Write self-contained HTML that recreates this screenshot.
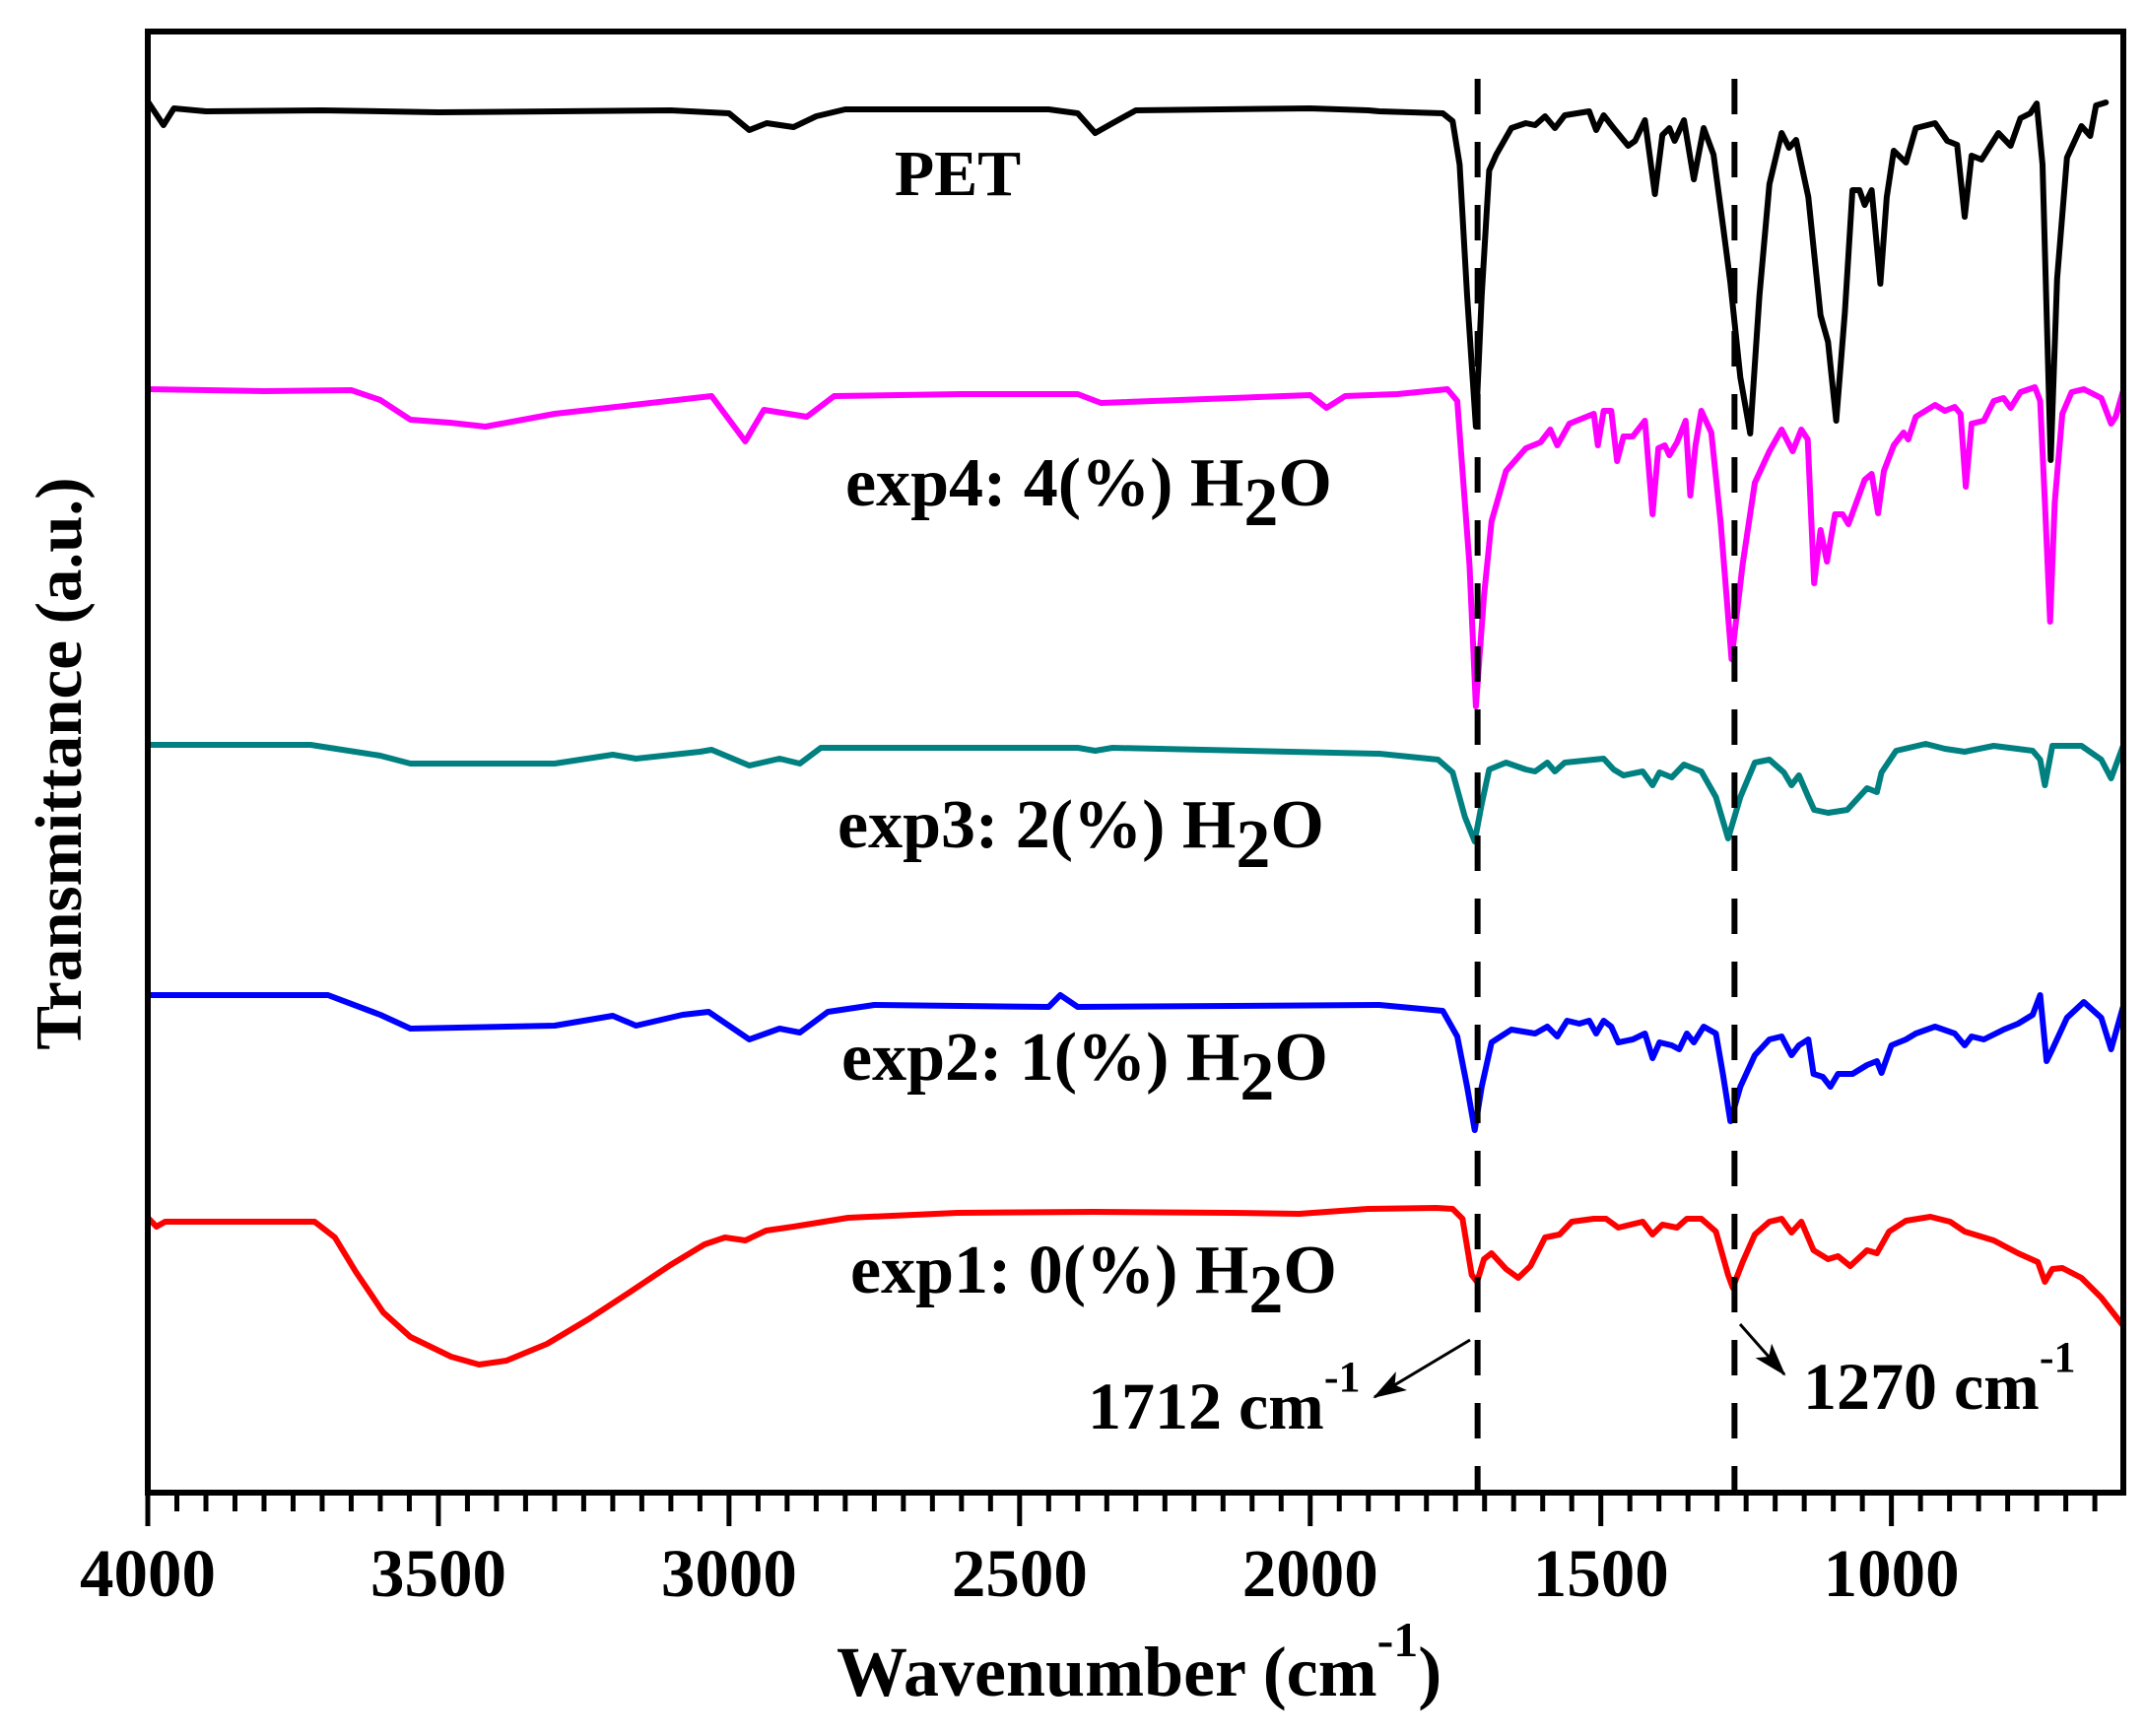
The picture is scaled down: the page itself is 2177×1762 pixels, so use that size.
<!DOCTYPE html>
<html><head><meta charset="utf-8"><style>
html,body{margin:0;padding:0;background:#fff;}
svg{display:block;}
text{font-family:"Liberation Serif",serif;font-weight:bold;fill:#000;}
</style></head><body>
<svg id="chart" width="2177" height="1762" viewBox="0 0 2177 1762" xmlns="http://www.w3.org/2000/svg">
<defs><clipPath id="plotclip"><rect x="150" y="32" width="2005" height="1483"/></clipPath>
<marker id="arrowhead" markerWidth="10" markerHeight="8" refX="9" refY="4" orient="auto" markerUnits="userSpaceOnUse" viewBox="0 0 10 8"><path d="M0,0 L10,4 L0,8 z" fill="#000"/></marker>
<marker id="ah" markerWidth="34" markerHeight="22" refX="32" refY="11" orient="auto" markerUnits="userSpaceOnUse"><path d="M0,0 L34,11 L0,22 L8,11 z" fill="#000"/></marker></defs>
<g id="series" clip-path="url(#plotclip)"></g>
<g id="guides"></g>
<rect x="150" y="32" width="2005" height="1483" fill="none" stroke="#000" stroke-width="6"/>
<g id="xaxis"></g>
<text x="972" y="198" font-size="66" text-anchor="middle">PET</text>
<text x="858" y="513" font-size="70">exp4: 4(%) H<tspan dy="20">2</tspan><tspan dy="-20">O</tspan></text>
<text x="850" y="860" font-size="70">exp3: 2(%) H<tspan dy="20">2</tspan><tspan dy="-20">O</tspan></text>
<text x="854" y="1096" font-size="70">exp2: 1(%) H<tspan dy="20">2</tspan><tspan dy="-20">O</tspan></text>
<text x="863" y="1312" font-size="70">exp1: 0(%) H<tspan dy="20">2</tspan><tspan dy="-20">O</tspan></text>
<text x="1104" y="1450" font-size="68">1712 cm<tspan font-size="44" dy="-38">-1</tspan></text>
<text x="1830" y="1430" font-size="68">1270 cm<tspan font-size="44" dy="-38">-1</tspan></text>
<line x1="1492" y1="1360" x2="1395" y2="1418" stroke="#000" stroke-width="3" marker-end="url(#ah)"/>
<line x1="1766" y1="1344" x2="1811" y2="1395" stroke="#000" stroke-width="3" marker-end="url(#ah)"/>
<text x="849" y="1721" font-size="72">Wavenumber (cm<tspan font-size="50" dy="-40">-1</tspan><tspan dy="40">)</tspan></text>
<text transform="translate(82,775) rotate(-90)" font-size="67" text-anchor="middle">Transmittance (a.u.)</text>
</svg>
<script>
const xTicks = [4000, 3500, 3000, 2500, 2000, 1500, 1000];
const xTickLabels = ["4000", "3500", "3000", "2500", "2000", "1500", "1000"];
const markerLines = [1712, 1270];

const petWn = [4000,3973,3955,3900,3700,3500,3100,3000,2965,2935,2889,2850,2800,2450,2400,2370,2340,2300,2000,1900,1881,1772,1755,1743,1730,1715,1705,1692,1680,1654,1629,1613,1596,1579,1562,1520,1508,1495,1478,1453,1441,1424,1407,1394,1382,1373,1357,1340,1323,1306,1289,1277,1260,1243,1227,1210,1189,1176,1164,1143,1122,1109,1095,1080,1067,1055,1046,1034,1019,1008,996,975,958,925,904,887,874,862,845,816,795,778,761,750,740,726,715,698,673,658,648,631];
const petT = [141.2,138.8,140.5,140.2,140.3,140.1,140.3,140.0,138.3,139.0,138.6,139.7,140.4,140.4,140.0,138.0,139.0,140.3,140.5,140.3,140.2,140.0,139.2,134.8,121.5,108.2,121.5,134.2,135.8,138.5,139.0,138.8,139.7,138.5,139.8,140.2,138.3,139.8,138.5,136.7,137.2,139.3,131.8,137.8,138.5,137.2,139.3,133.3,138.5,135.8,128.2,122.8,113.2,107.5,121.5,132.8,138.0,136.5,137.3,131.5,119.5,116.8,108.8,119.8,132.2,132.2,130.7,132.2,122.7,131.5,136.2,135.0,138.5,139.0,137.2,136.8,129.5,135.7,135.3,138.0,136.7,139.5,140.0,141.0,134.8,104.8,123.2,135.5,138.7,137.7,140.8,141.1];

const exp4Wn = [4000,3800,3650,3600,3548,3480,3419,3300,3150,3030,2972,2940,2866,2819,2600,2400,2360,2000,1972,1940,1850,1764,1747,1726,1715,1701,1688,1663,1629,1604,1587,1575,1554,1512,1505,1495,1482,1472,1461,1445,1424,1411,1401,1390,1382,1369,1354,1346,1337,1327,1310,1294,1275,1256,1235,1210,1189,1170,1155,1144,1133,1122,1111,1097,1084,1074,1046,1034,1023,1013,996,979,971,958,925,908,891,881,872,862,841,824,807,795,778,753,744,736,727,719,706,690,669,639,622,614,602];
const exp4T = [112.0,111.8,111.9,110.9,108.9,108.6,108.2,109.5,110.5,111.3,106.7,109.9,109.2,111.3,111.5,111.5,110.6,111.4,110.1,111.3,111.5,112.0,110.8,94.2,79.8,91.0,98.6,103.7,106.0,106.6,107.9,106.3,108.5,109.5,106.3,109.8,109.8,104.7,107.2,107.2,108.8,99.3,106.0,106.3,105.3,106.6,108.8,101.2,106.3,109.8,107.6,98.6,84.6,94.2,102.5,105.7,107.9,105.7,107.9,106.9,92.3,97.7,94.5,99.3,99.3,98.3,102.8,103.4,99.4,103.7,106.3,107.6,106.9,109.2,110.4,109.8,110.2,109.5,102.1,108.5,108.8,110.8,111.1,110.1,111.7,112.2,110.8,100.5,88.4,100.5,109.5,111.7,112.0,111.1,108.5,109.2,111.7];

const exp3Wn = [4000,3720,3600,3548,3300,3200,3160,3050,3030,2965,2913,2878,2842,2400,2370,2340,1881,1780,1755,1734,1717,1705,1692,1663,1629,1613,1592,1579,1562,1512,1495,1478,1461,1428,1411,1399,1378,1357,1327,1302,1281,1260,1235,1210,1185,1172,1159,1143,1133,1109,1076,1042,1025,1017,992,941,908,874,824,757,744,736,723,673,639,622,602];
const exp3T = [75.9,75.9,74.8,74.0,74.0,74.9,74.5,75.2,75.4,73.8,74.5,74.0,75.6,75.6,75.3,75.6,75.0,74.4,73.1,68.6,66.1,69.9,73.4,74.1,73.4,73.2,74.1,73.2,74.1,74.4,74.5,73.4,72.8,73.2,71.8,73.1,72.6,73.9,73.2,70.6,66.4,70.6,74.1,74.4,73.1,71.8,72.8,70.6,69.3,69.0,69.3,71.5,71.1,73.1,75.3,76.0,75.5,75.2,75.8,75.3,74.4,71.8,75.8,75.8,74.4,72.5,75.7];

const exp2Wn = [4000,3690,3600,3548,3300,3200,3160,3080,3035,2965,2913,2878,2830,2750,2450,2430,2400,1881,1772,1747,1730,1717,1705,1688,1654,1613,1592,1575,1558,1537,1520,1508,1495,1482,1470,1445,1424,1411,1399,1378,1365,1352,1340,1323,1302,1290,1277,1260,1235,1210,1189,1172,1159,1143,1134,1118,1105,1092,1067,1042,1025,1017,1000,975,958,925,891,874,862,841,807,782,757,744,733,723,698,669,639,622,602];
const exp2T = [50.5,50.5,48.5,47.1,47.4,48.4,47.4,48.5,48.8,46.0,47.1,46.7,48.8,49.5,49.3,50.5,49.3,49.5,48.9,46.3,41.2,36.8,41.2,45.7,47.0,46.6,47.3,46.3,47.9,47.6,47.9,46.6,47.9,47.3,45.7,46.0,46.6,44.1,45.7,45.4,45.0,46.6,45.7,47.3,46.6,42.5,37.7,41.2,44.4,46.0,46.3,44.4,45.4,46.0,42.5,42.2,41.2,42.5,42.5,43.4,43.8,42.6,45.4,46.0,46.6,47.3,46.6,45.4,46.3,46.0,47.0,47.6,48.5,50.5,43.8,45.0,48.2,49.8,48.2,45.0,49.2];

const exp1Wn = [4000,3985,3970,3713,3678,3642,3595,3548,3478,3430,3383,3313,3242,3172,3101,3042,3007,2972,2936,2889,2795,2607,2372,2136,2019,1901,1783,1755,1738,1722,1713,1701,1688,1663,1642,1621,1596,1571,1550,1512,1491,1470,1428,1411,1394,1369,1352,1327,1302,1281,1273,1256,1235,1210,1189,1172,1155,1134,1109,1092,1071,1042,1025,1004,975,933,899,874,824,782,748,736,723,706,673,639,602];
const exp1T = [27.9,27.0,27.5,27.5,25.9,22.4,18.3,15.8,13.8,13.0,13.4,15.1,17.6,20.3,23.1,25.2,25.9,25.6,26.6,27.0,27.9,28.4,28.5,28.4,28.3,28.8,28.9,28.8,27.8,22.1,21.4,23.7,24.3,22.7,21.8,23.0,25.9,26.2,27.5,27.8,27.8,26.9,27.5,26.2,27.2,26.9,27.8,27.8,26.5,22.1,20.8,23.4,26.2,27.5,27.8,26.4,27.5,24.6,23.7,24.0,23.0,24.6,24.3,26.5,27.6,28.0,27.5,26.5,25.6,24.3,23.4,21.4,22.7,22.8,21.8,19.8,17.0];

const NS = "http://www.w3.org/2000/svg";
const plotLeft = 150, plotRight = 2155, plotTop = 32, plotBottom = 1515;
function xScale(w) { return plotLeft + (4000 - w) * (plotRight - plotLeft) / (4000 - 601); }
function yScale(v) { return plotBottom - v * 10; }

const seriesG = document.getElementById('series');
function drawSeries(wn, t, color, name) {
  let d = '';
  for (let i = 0; i < wn.length; i++) {
    d += (i ? 'L' : 'M') + xScale(wn[i]).toFixed(1) + ',' + yScale(t[i]).toFixed(1);
  }
  const p = document.createElementNS(NS, 'path');
  p.setAttribute('d', d);
  p.setAttribute('fill', 'none');
  p.setAttribute('stroke', color);
  p.setAttribute('stroke-width', '6');
  p.setAttribute('stroke-linejoin', 'round');
  p.setAttribute('stroke-linecap', 'round');
  
  
  seriesG.appendChild(p);
}
drawSeries(exp1Wn, exp1T, '#ff0000', 'series-exp1');
drawSeries(exp2Wn, exp2T, '#0000ff', 'series-exp2');
drawSeries(exp3Wn, exp3T, '#008080', 'series-exp3');
drawSeries(exp4Wn, exp4T, '#ff00ff', 'series-exp4');
drawSeries(petWn, petT, '#000000', 'series-pet');

const guides = document.getElementById('guides');
markerLines.forEach(function (w) {
  const l = document.createElementNS(NS, 'line');
  l.setAttribute('x1', xScale(w)); l.setAttribute('x2', xScale(w));
  l.setAttribute('y1', 80); l.setAttribute('y2', plotBottom);
  l.setAttribute('stroke', '#000');
  l.setAttribute('stroke-width', '6');
  l.setAttribute('stroke-dasharray', '36 28');
  
  
  guides.appendChild(l);
});

const xaxis = document.getElementById('xaxis');
for (let w = 4000; w >= 601; w -= 50) {
  const major = (w % 500 === 0);
  const l = document.createElementNS(NS, 'line');
  l.setAttribute('x1', xScale(w)); l.setAttribute('x2', xScale(w));
  l.setAttribute('y1', plotBottom); l.setAttribute('y2', plotBottom + (major ? 34 : 19));
  l.setAttribute('stroke', '#000');
  l.setAttribute('stroke-width', '5');
  
  
  xaxis.appendChild(l);
}
xTicks.forEach(function (w, i) {
  const t = document.createElementNS(NS, 'text');
  t.setAttribute('x', xScale(w));
  t.setAttribute('y', 1620);
  t.setAttribute('font-size', '69');
  t.setAttribute('text-anchor', 'middle');
  t.textContent = xTickLabels[i];
  
  
  xaxis.appendChild(t);
});
</script>
</body></html>
